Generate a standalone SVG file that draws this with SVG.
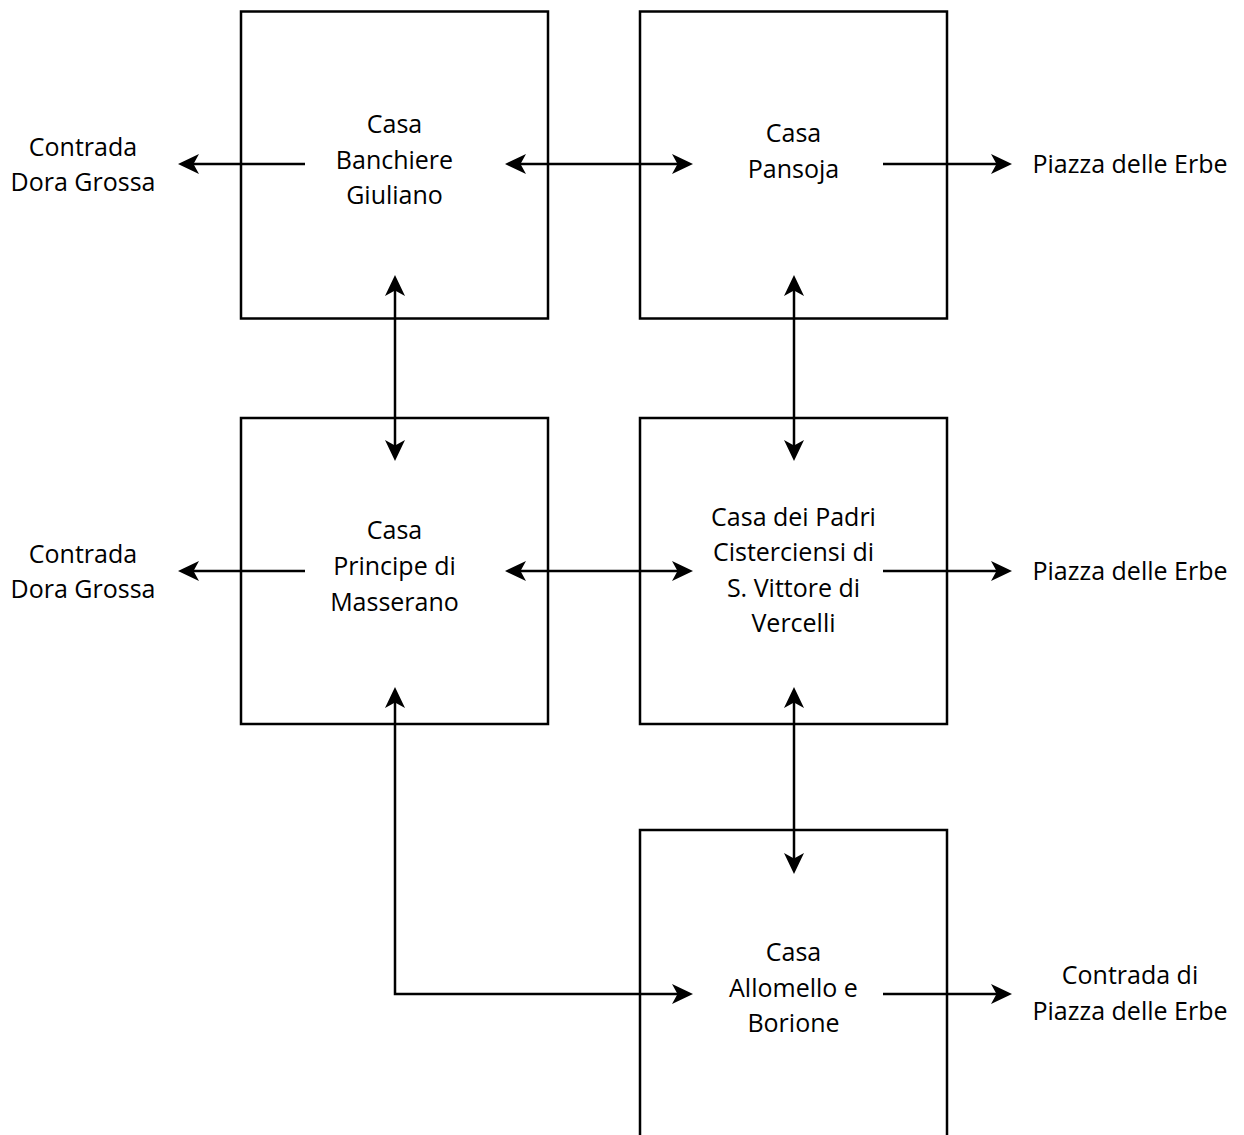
<svg xmlns="http://www.w3.org/2000/svg" width="1244" height="1135" viewBox="0 0 1244 1135">
  <style>
    .box { fill: #ffffff; stroke: #000000; stroke-width: 2.5; }
    .link { fill: none; stroke: #000000; stroke-width: 2.5; }
    text { font-family: "Open Sans", "Liberation Sans", sans-serif; font-size: 25px; fill: #000000; text-anchor: middle; }
  </style>
  <defs>
    <marker id="arrow" viewBox="-24 -12 26 24" markerWidth="26" markerHeight="24" refX="-5" refY="0" markerUnits="userSpaceOnUse" orient="auto-start-reverse">
      <path d="M0,0 L-21,-10 L-15.5,0 L-21,10 Z" fill="#000000"/>
    </marker>
  </defs>
  <rect width="1244" height="1135" fill="#ffffff"/>

  <g id="casa-banchiere-giuliano">
    <rect class="box" x="241" y="11.5" width="307" height="307"/>
    <text x="394.5" y="133">Casa</text>
    <text x="394.5" y="169">Banchiere</text>
    <text x="394.5" y="204">Giuliano</text>
  </g>

  <g id="casa-pansoja">
    <rect class="box" x="640" y="11.5" width="307" height="307"/>
    <text x="793.5" y="142">Casa</text>
    <text x="793.5" y="178">Pansoja</text>
  </g>

  <g id="casa-principe-di-masserano">
    <rect class="box" x="241" y="418" width="307" height="306"/>
    <text x="394.5" y="539">Casa</text>
    <text x="394.5" y="575">Principe di</text>
    <text x="394.5" y="611">Masserano</text>
  </g>

  <g id="casa-padri-cisterciensi">
    <rect class="box" x="640" y="418" width="307" height="306"/>
    <text x="793.5" y="526">Casa dei Padri</text>
    <text x="793.5" y="561">Cisterciensi di</text>
    <text x="793.5" y="597">S. Vittore di</text>
    <text x="793.5" y="632">Vercelli</text>
  </g>

  <g id="casa-allomello-borione">
    <rect class="box" x="640" y="830" width="307" height="320"/>
    <text x="793.5" y="961">Casa</text>
    <text x="793.5" y="997">Allomello e</text>
    <text x="793.5" y="1032">Borione</text>
  </g>

  <g id="contrada-dora-grossa-1">
    <text x="83" y="156">Contrada</text>
    <text x="83" y="191">Dora Grossa</text>
  </g>

  <g id="contrada-dora-grossa-2">
    <text x="83" y="563">Contrada</text>
    <text x="83" y="598">Dora Grossa</text>
  </g>

  <g id="piazza-delle-erbe-1">
    <text x="1130" y="173">Piazza delle Erbe</text>
  </g>

  <g id="piazza-delle-erbe-2">
    <text x="1130" y="580">Piazza delle Erbe</text>
  </g>

  <g id="contrada-di-piazza-delle-erbe">
    <text x="1130" y="984">Contrada di</text>
    <text x="1130" y="1020">Piazza delle Erbe</text>
  </g>

  <g id="connectors">
    <path class="link" d="M305,164 H183" marker-end="url(#arrow)"/>
    <path class="link" d="M510,164 H688" marker-start="url(#arrow)" marker-end="url(#arrow)"/>
    <path class="link" d="M883,164 H1007" marker-end="url(#arrow)"/>
    <path class="link" d="M395,280 V456" marker-start="url(#arrow)" marker-end="url(#arrow)"/>
    <path class="link" d="M794,280 V456" marker-start="url(#arrow)" marker-end="url(#arrow)"/>
    <path class="link" d="M305,571 H183" marker-end="url(#arrow)"/>
    <path class="link" d="M510,571 H688" marker-start="url(#arrow)" marker-end="url(#arrow)"/>
    <path class="link" d="M883,571 H1007" marker-end="url(#arrow)"/>
    <path class="link" d="M395,692 V994 H688" marker-start="url(#arrow)" marker-end="url(#arrow)"/>
    <path class="link" d="M794,692 V869" marker-start="url(#arrow)" marker-end="url(#arrow)"/>
    <path class="link" d="M883,994 H1007" marker-end="url(#arrow)"/>
  </g>
</svg>
